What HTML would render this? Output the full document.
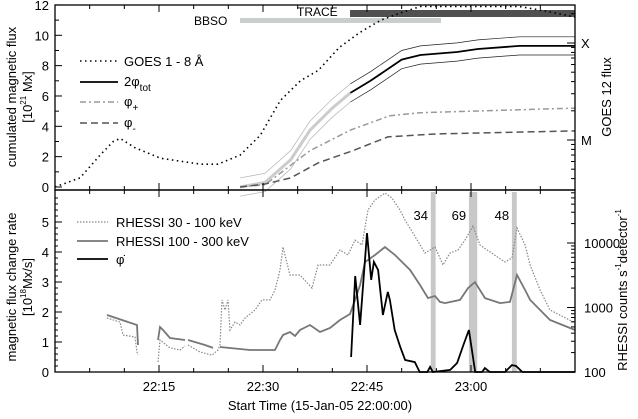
<!DOCTYPE html>
<html><head><meta charset="utf-8"><style>
body{margin:0;background:#fff}
svg{font-family:"Liberation Sans",sans-serif}
</style></head><body>
<svg id="c" width="638" height="414" viewBox="0 0 638 414" xmlns="http://www.w3.org/2000/svg">
<g id="g"></g>
</svg>
<script>
// time in minutes after 22:00
const goesT=[0,3.6,6.5,8.4,9.4,11.5,15.2,21,23.5,26.7,29.6,32.5,35.4,38,41,44,47,50,52.7,58.4,67,70.7,75];
const goesV=[0,0.6,2.1,3.0,3.2,2.6,1.9,1.5,1.5,2.1,3.4,5.7,7.0,7.7,9.2,10.2,11.0,11.5,11.9,11.9,11.9,11.6,11.2];
const totT=[26.7,30.3,34,36.8,40,42.6,45.5,50,52.7,58,61,67,75];
const totV=[0,0.3,1.8,3.75,5.2,6.2,7.0,8.4,8.7,8.9,9.1,9.3,9.3];
const totErr=0.6;
const plusT=[26.7,30.3,36.8,42.6,48.3,52.7,60,75];
const plusV=[0,0.15,2.4,3.75,4.7,4.9,5.0,5.2];
const minusT=[26.7,30.3,34,38,43,48,55,75];
const minusV=[0,0.2,0.6,1.6,2.4,3.3,3.5,3.7];
// RHESSI 30-100 keV (counts), null = data gap
const r1T=[7.50,9.38,9.81,11.54,11.83,11.97,null,
 14.86,15.14,16.59,18.03,18.75,null,
 19.18,20.91,22.65,23.51,
 23.80,24.09,24.52,24.95,25.24,25.96,26.68,27.41,28.85,29.86,
 31.01,31.73,32.45,32.89,33.90,35.34,37.07,37.94,39.67,41.11,
 42.26,43.27,44.28,45.15,46.16,47.60,48.61,49.76,50.48,53.37,
 54.81,55.96,56.97,58.13,59.14,60.29,61.30,62.74,64.91,65.92,
 66.64,67.80,68.52,69.96,71.40,75];
const r1C=[687,596,375,349,204,183,null,
 143,313,236,219,253,null,
 262,204,183,219,
 262,1310,915,1310,448,596,535,687,915,1310,
 1310,1870,3810,8670,3190,3190,2000,4560,4560,7790,
 6520,11100,9310,32500,46400,59600,49900,32500,22700,7000,
 8670,4560,7000,7790,11100,18300,9310,7250,5070,5850,
 17100,9310,4560,1870,915,580];
// RHESSI 100-300 keV (counts)
const r2T=[7.50,9.66,11.83,11.97,null,
 14.86,15.14,15.58,16.59,18.75,null,
 19.18,21.64,22.79,null,
 23.80,28.13,31.73,32.45,32.89,33.90,34.62,35.34,36.78,38.22,
 39.67,41.11,42.55,43.27,44.0,44.71,46.16,47.60,49.04,51.21,
 52.65,53.80,54.81,55.53,56.25,58.42,59.57,60.58,62.02,64.19,
 65.63,66.64,67.80,68.52,71.40,75];
const r2C=[765,640,535,262,null,
 313,499,448,337,313,null,
 313,262,236,null,
 244,219,219,313,375,417,361,448,535,417,
 481,640,793,1310,2230,5070,6520,8670,6520,3810,
 2230,1400,1510,1220,1170,1310,2000,2480,1400,1170,
 1220,3190,1870,1310,640,448];
// phi-dot (10^18 Mx/s)
const phiT=[42.7,43.3,44.0,45.0,45.6,46.0,46.6,47.3,48.0,48.3,49.0,49.8,50.5,51.9,52.6,53.7,54.1,54.5,57.0,58.0,58.9,59.7,60.6,61.6,62.0,62.7,64.9,65.9,66.5,67.4,75];
const phiV=[0.5,3.2,1.57,4.63,3.07,3.67,3.4,1.9,2.67,2.4,1.4,0.83,0.4,0.33,0,0,0.17,0,0.07,0.3,0.9,1.4,0,0,0.13,0,0,0.23,0.2,0,0];
const stripeT=[[54.2,54.9],[59.7,60.9],[65.9,66.6]];
const stripeLbl=['34','69','48'];
const xTickLbl=['22:15','22:30','22:45','23:00'];
const xTickT=[15,30,45,60];

const X0=55,X1=575;
const x=t=>X0+t*(X1-X0)/75;
const yT=v=>187-v*15.17;
const yB=v=>372-v*30;
const yR=c=>372-(Math.log10(c)-2)*64.5;
const G=document.getElementById('g');
const NS='http://www.w3.org/2000/svg';
function mk(tag,at,name){const e=document.createElementNS(NS,tag);for(const k in at)e.setAttribute(k,at[k]);


G.appendChild(e);return e;}
function path(ts,vs,fy,off){let d='',pen=false;for(let i=0;i<ts.length;i++){if(ts[i]===null||vs[i]===null){pen=false;continue;}
d+=(pen?'L':'M')+x(ts[i]).toFixed(1)+','+fy(vs[i]+(off||0)).toFixed(1);pen=true;}return d;}
function txt(s,xx,yy,at,name){const e=mk('text',Object.assign({x:xx,y:yy,'font-size':13},at||{}),name);e.innerHTML=s;return e;}

stripeT.forEach((s,i)=>{mk('rect',{x:x(s[0]),y:192,width:x(s[1])-x(s[0]),height:180,fill:'#c8c8c8'},'stripe-'+stripeLbl[i]);
txt(stripeLbl[i],x(s[0])-10,220,{'text-anchor':'middle'},'stripe-label-'+stripeLbl[i]);});
mk('rect',{x:240,y:18,width:201,height:5,fill:'#c9cfcf'},'bbso-bar');
mk('rect',{x:350,y:10,width:225,height:7,fill:'#505050'},'trace-bar');
txt('BBSO',194,25,{'font-size':12},'bbso-label');
txt('TRACE',297,16,{'font-size':12},'trace-label');

mk('path',{d:path(goesT,goesV,yT),fill:'none',stroke:'#000','stroke-width':1.6,'stroke-dasharray':'1.5,3.5'},'goes-curve');
const tLight=totT.filter(t=>t<=42.6).length;
const eT=totT.slice(0,tLight),eV=totV.slice(0,tLight),lT=totT.slice(tLight-1),lV=totV.slice(tLight-1);
[-totErr,totErr].forEach((o,k)=>{mk('path',{d:path(eT,eV,yT,o),fill:'none',stroke:'#bbb','stroke-width':0.8},'tot-error-early-'+k);
mk('path',{d:path(lT,lV,yT,o),fill:'none',stroke:'#222','stroke-width':0.7},'tot-error-'+k);});
mk('path',{d:path(eT,eV,yT),fill:'none',stroke:'#ccc','stroke-width':3},'tot-early');
mk('path',{d:path(lT,lV,yT),fill:'none',stroke:'#000','stroke-width':1.8},'tot-curve');
mk('path',{d:path(plusT,plusV,yT),fill:'none',stroke:'#999','stroke-width':1.5,'stroke-dasharray':'6,3,2,3'},'phi-plus-curve');
mk('path',{d:path(minusT,minusV,yT),fill:'none',stroke:'#555','stroke-width':1.5,'stroke-dasharray':'7,4'},'phi-minus-curve');

mk('path',{d:path(r1T,r1C,yR),fill:'none',stroke:'#888','stroke-width':1.2,'stroke-dasharray':'1.5,1.5'},'rhessi-30-100');
mk('path',{d:path(r2T,r2C,yR),fill:'none',stroke:'#777','stroke-width':1.8},'rhessi-100-300');
mk('path',{d:path(phiT,phiV,yB),fill:'none',stroke:'#000','stroke-width':1.8},'phi-dot-curve');

mk('rect',{x:X0,y:5,width:X1-X0,height:185,fill:'none',stroke:'#000','stroke-width':1.3},'top-frame');
mk('rect',{x:X0,y:190,width:X1-X0,height:182,fill:'none',stroke:'#000','stroke-width':1.3},'bottom-frame');

for(let t=0;t<=75;t+=5){const maj=t%15===0;const L=maj?7:4;
[[190,-1],[372,-1],[5,1],[190,1]].forEach(([yy,dir])=>mk('line',{x1:x(t),x2:x(t),y1:yy,y2:yy+dir*L,stroke:'#000'},'x-tick'));}
xTickT.forEach((t,i)=>txt(xTickLbl[i],x(t),391,{'text-anchor':'middle'},'x-tick-label'));
txt('Start Time (15-Jan-05 22:00:00)',X0+(X1-X0)/2+5,410,{'text-anchor':'middle'},'x-axis-title');

for(let v=0;v<=12;v+=1){const maj=v%2===0;mk('line',{x1:X0,x2:X0+(maj?7:4),y1:yT(v),y2:yT(v),stroke:'#000'},'top-y-tick');
if(maj)txt(String(v),X0-6,yT(v)+5,{'text-anchor':'end'},'top-y-label');}
for(let d=-1;d<=1;d++)for(let m=1;m<10;m++){const y2=140-d*97-Math.log10(m)*97;
if(y2>6&&y2<189)mk('line',{x1:X1,x2:X1-(m===1?8:4),y1:y2,y2:y2,stroke:'#000'},'goes-tick');}
txt('X',581,48,{},'goes-x-label');
txt('M',581,145,{},'goes-m-label');
txt('GOES 12 flux',0,0,{transform:'translate(611,97) rotate(-90)','text-anchor':'middle'},'goes-axis-title');

for(let v=0;v<=6;v+=0.2){const maj=Math.abs(v-Math.round(v))<0.01;mk('line',{x1:X0,x2:X0+(maj?7:3),y1:yB(v),y2:yB(v),stroke:'#000'},'bottom-y-tick');
if(maj&&v<5.5)txt(String(Math.round(v)),X0-6,yB(v)+5,{'text-anchor':'end'},'bottom-y-label');}
for(let d=2;d<=4;d++)for(let m=1;m<10;m++){const c=m*Math.pow(10,d);const yy=yR(c);if(yy<192)continue;
mk('line',{x1:X1,x2:X1-(m===1?8:4),y1:yy,y2:yy,stroke:'#000'},'rhessi-tick');}
['100','1000','10000'].forEach((s,i)=>txt(s,584,yR(Math.pow(10,i+2))+5,{},'rhessi-tick-label'));
txt('RHESSI counts  s<tspan font-size="8" dy="-6">-1</tspan><tspan dy="6">detector</tspan><tspan font-size="8" dy="-6">-1</tspan>',0,0,{transform:'translate(627,290) rotate(-90)','text-anchor':'middle'},'rhessi-axis-title');

txt('cumulated magnetic flux',0,0,{transform:'translate(16,97) rotate(-90)','text-anchor':'middle'},'top-y-title');
txt('[10<tspan font-size="8" dy="-6">21</tspan><tspan dy="6"> Mx]</tspan>',0,0,{transform:'translate(32,97) rotate(-90)','text-anchor':'middle'},'top-y-units');
txt('magnetic flux change rate',0,0,{transform:'translate(16,287) rotate(-90)','text-anchor':'middle'},'bottom-y-title');
txt('[10<tspan font-size="8" dy="-6">18</tspan><tspan dy="6">Mx/s]</tspan>',0,0,{transform:'translate(32,287) rotate(-90)','text-anchor':'middle'},'bottom-y-units');

mk('line',{x1:80,x2:118,y1:61,y2:61,stroke:'#000','stroke-width':1.6,'stroke-dasharray':'1.5,3.5'},'legend-goes-line');
txt('GOES 1 - 8 Å',124,66,{},'legend-goes');
mk('line',{x1:80,x2:118,y1:82,y2:82,stroke:'#000','stroke-width':1.8},'legend-tot-line');
txt('2φ<tspan font-size="10" dy="5">tot</tspan>',124,86,{},'legend-tot');
mk('line',{x1:80,x2:118,y1:102,y2:102,stroke:'#999','stroke-width':1.5,'stroke-dasharray':'6,3,2,3'},'legend-plus-line');
txt('φ<tspan font-size="10" dy="5">+</tspan>',124,106,{},'legend-plus');
mk('line',{x1:80,x2:118,y1:123,y2:123,stroke:'#555','stroke-width':1.5,'stroke-dasharray':'7,4'},'legend-minus-line');
txt('φ<tspan font-size="10" dy="5">-</tspan>',124,127,{},'legend-minus');
mk('line',{x1:77,x2:108,y1:222,y2:222,stroke:'#888','stroke-width':1.2,'stroke-dasharray':'1.5,1.5'},'legend-r1-line');
txt('RHESSI 30 - 100 keV',116,227,{},'legend-r1');
mk('line',{x1:77,x2:108,y1:241,y2:241,stroke:'#777','stroke-width':1.8},'legend-r2-line');
txt('RHESSI 100 - 300 keV',116,246,{},'legend-r2');
mk('line',{x1:77,x2:108,y1:259,y2:259,stroke:'#000','stroke-width':1.8},'legend-phi-line');
txt('φ̇',116,264,{},'legend-phi');
</script>
</body></html>
